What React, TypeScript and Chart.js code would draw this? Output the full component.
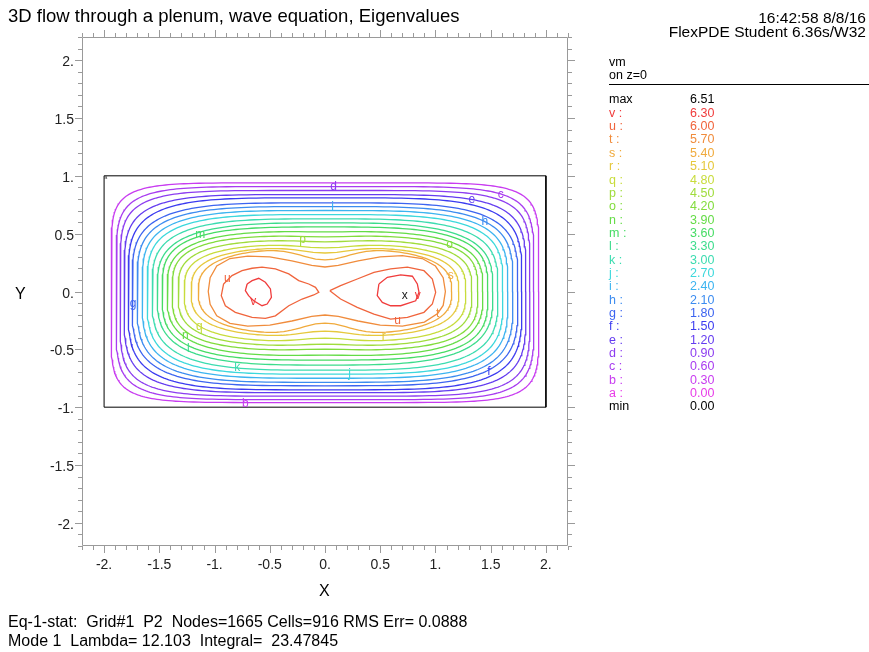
import React, { useEffect, useRef } from "react";
import { Chart, registerables } from "chart.js";

Chart.register(...registerables);

// ---------- legend / level table ----------
const levelLetters = ["a","b","c","d","e","f","g","h","i","j","k","l","m","n","o","p","q","r","s","t","u","v"];
const levelValues = ["0.00","0.30","0.60","0.90","1.20","1.50","1.80","2.10","2.40","2.70","3.00","3.30","3.60","3.90","4.20","4.50","4.80","5.10","5.40","5.70","6.00","6.30"];
const levelColors = ["#e83ce8","#c83cf0","#a83cf0","#8c3cf0","#643cf0","#3c3cf0","#3c64f0","#3c8cf0","#3cb4f0","#3cd8dc","#3cdcb0","#3cdc8c","#46dc64","#64dc46","#82dc3c","#a0dc3c","#c8dc3c","#e6c83c","#f0aa3c","#f08c3c","#f0643c","#f03c3c"];
const maxValue = "6.51";
const minValue = "0.00";

// ---------- outer contours (rounded) ----------
const contourLetters = ["b","c","d","e","f","g","h","i","j","k","l","m","n","o","p","q","r","s"];
const contourHalfW = [1.936,1.891,1.855,1.819,1.782,1.746,1.701,1.655,1.610,1.565,1.519,1.474,1.429,1.383,1.329,1.274,1.211,1.147];
const contourTop = [0.939,0.907,0.873,0.838,0.810,0.766,0.734,0.700,0.665,0.628,0.593,0.558,0.515,0.472,0.429,0.377,0.333,0.273];
const contourBottom = [-0.960,-0.935,-0.905,-0.875,-0.850,-0.815,-0.785,-0.750,-0.715,-0.680,-0.636,-0.593,-0.550,-0.498,-0.455,-0.403,-0.342,-0.273];
const contourExp = [7,6,5.5,4.8,4.3,4.0,3.9,3.8,3.7,3.5,3.3,3.4,3.3,3.4,3.3,3.2,3.0,2.8];
const contourWaist = [0,0,0,0,0,0,0,0,0,0,0,0,0.005,0.01,0.015,0.03,0.05,0.1];

// ---------- inner contours (t, u, v) ----------
const tX = [-1.057,-1.04,-0.98,-0.86,-0.70,-0.50,-0.30,-0.12,0,0.12,0.30,0.50,0.70,0.88,1.00,1.07,1.09,1.07,1.02,0.90,0.70,0.50,0.30,0.12,0,-0.12,-0.30,-0.50,-0.70,-0.86,-0.98,-1.04];
const tY = [0,0.12,0.22,0.285,0.305,0.30,0.265,0.225,0.212,0.225,0.265,0.30,0.31,0.285,0.22,0.12,0,-0.12,-0.19,-0.265,-0.30,-0.29,-0.255,-0.215,-0.203,-0.215,-0.255,-0.29,-0.30,-0.275,-0.21,-0.11];
const uLeftX = [-0.918,-0.842,-0.751,-0.660,-0.570,-0.449,-0.328,-0.238,-0.147,-0.086,-0.056,-0.102,-0.207,-0.328,-0.449,-0.540,-0.660,-0.812,-0.902,-0.939];
const uLeftY = [0.065,0.137,0.180,0.201,0.210,0.195,0.152,0.094,0.065,0.036,-0.007,-0.030,-0.065,-0.123,-0.210,-0.232,-0.223,-0.180,-0.123,-0.036];
const uRightX = [0.044,0.141,0.292,0.443,0.594,0.746,0.896,0.972,1.002,0.972,0.896,0.746,0.594,0.443,0.292,0.141];
const uRightY = [0.007,0.050,0.108,0.166,0.195,0.210,0.180,0.108,-0.007,-0.108,-0.180,-0.223,-0.238,-0.195,-0.137,-0.065];
const vLeftX = [-0.705,-0.660,-0.600,-0.540,-0.494,-0.485,-0.524,-0.570,-0.646,-0.692,-0.721];
const vLeftY = [0.065,0.094,0.114,0.080,0.022,-0.050,-0.108,-0.123,-0.080,-0.036,0.007];
const vRightX = [0.488,0.564,0.685,0.791,0.836,0.851,0.821,0.685,0.594,0.519,0.473];
const vRightY = [0.065,0.123,0.143,0.132,0.065,-0.007,-0.080,-0.123,-0.123,-0.094,-0.036];

// domain boundary
const domainX = [-2, 2, 2, -2, -2];
const domainY = [1, 1, -1, -1, 1];

// contour labels on the plot
const labelText = ["d","i","e","c","h","o","s","t","u","r","j","f","x","v","m","p","g","q","n","l","k","b","u","v"];
const labelX = [0.077,0.068,1.329,1.592,1.447,1.129,1.138,1.020,0.658,0.531,0.222,1.483,0.721,0.839,-1.129,-0.204,-1.737,-1.138,-1.265,-1.238,-0.794,-0.721,-0.884,-0.649];
const labelY = [0.905,0.732,0.792,0.835,0.602,0.403,0.134,-0.195,-0.255,-0.394,-0.714,-0.697,-0.039,-0.039,0.489,0.446,-0.108,-0.307,-0.385,-0.498,-0.662,-0.974,0.108,-0.091];
// tiny boundary label at the domain corner
const cornerLabel = "a";
const cornerLabelX = -1.985;
const cornerLabelY = 0.985;

// axis ticks
const xTickValues = [-2,-1.5,-1,-0.5,0,0.5,1,1.5,2];
const xTickLabels = ["-2.","-1.5","-1.","-0.5","0.","0.5","1.","1.5","2."];
const yTickValues = [-2,-1.5,-1,-0.5,0,0.5,1,1.5,2];
const yTickLabels = ["-2.","-1.5","-1.","-0.5","0.","0.5","1.","1.5","2."];
const axisMin = -2.2;
const axisMax = 2.2;

const FONT = '"Liberation Sans", Arial, sans-serif';

function colorOf(letter: string): string {
  const i = levelLetters.indexOf(letter);
  return i >= 0 ? levelColors[i] : "#000000";
}

function zip(xs: number[], ys: number[], close: boolean) {
  const pts = xs.map((x, i) => ({ x, y: ys[i] }));
  if (close) pts.push({ x: xs[0], y: ys[0] });
  return pts;
}

function roundedContour(i: number) {
  const W = contourHalfW[i];
  const n = contourExp[i];
  const w = contourWaist[i];
  const pts: { x: number; y: number }[] = [];
  const N = 240;
  for (let k = 0; k <= N; k++) {
    const th = (k / N) * Math.PI * 2;
    const c = Math.cos(th);
    const s = Math.sin(th);
    const x = W * Math.sign(c) * Math.pow(Math.abs(c), 2 / n);
    const H = s >= 0 ? contourTop[i] + w : -contourBottom[i] + w;
    let y = H * Math.pow(Math.abs(s), 2 / n);
    y -= w * Math.exp(-(x / 0.3) * (x / 0.3)) * Math.pow(Math.abs(s), 0.5);
    pts.push({ x, y: s >= 0 ? y : -y });
  }
  return pts;
}

const overlayPlugin = {
  id: "overlay",
  afterDatasetsDraw(chart: any) {
    const { ctx, chartArea: a, scales } = chart;
    const xs = scales.x;
    const ys = scales.y;
    ctx.save();
    // contour labels
    ctx.font = `12px ${FONT}`;
    ctx.textAlign = "center";
    ctx.textBaseline = "middle";
    labelText.forEach((t, i) => {
      ctx.fillStyle = t === "x" ? "#202020" : colorOf(t);
      ctx.fillText(t, xs.getPixelForValue(labelX[i]), ys.getPixelForValue(labelY[i]));
    });
    ctx.font = `6px ${FONT}`;
    ctx.fillStyle = "#444444";
    ctx.fillText(cornerLabel, xs.getPixelForValue(cornerLabelX), ys.getPixelForValue(cornerLabelY));
    // frame
    ctx.strokeStyle = "#9a9a9a";
    ctx.lineWidth = 1;
    ctx.beginPath();
    ctx.rect(Math.round(a.left) + 0.5, Math.round(a.top) + 0.5, Math.round(a.right - a.left) - 1, Math.round(a.bottom - a.top) - 1);
    ctx.stroke();
    // ticks (minor every 0.1, major every 0.5)
    ctx.beginPath();
    for (let k = Math.round(axisMin * 10); k <= Math.round(axisMax * 10); k++) {
      const v = k / 10;
      const len = k % 5 === 0 ? 7 : 4;
      const px = Math.round(xs.getPixelForValue(v)) + 0.5;
      const py = Math.round(ys.getPixelForValue(v)) + 0.5;
      ctx.moveTo(px, a.top); ctx.lineTo(px, a.top - len);
      ctx.moveTo(px, a.bottom); ctx.lineTo(px, a.bottom + len);
      ctx.moveTo(a.left, py); ctx.lineTo(a.left - len, py);
      ctx.moveTo(a.right, py); ctx.lineTo(a.right + len, py);
    }
    ctx.stroke();
    // tick labels
    ctx.fillStyle = "#222222";
    ctx.font = `14px ${FONT}`;
    ctx.textBaseline = "alphabetic";
    ctx.textAlign = "center";
    xTickValues.forEach((v, i) => {
      ctx.fillText(xTickLabels[i], xs.getPixelForValue(v), a.bottom + 23);
    });
    ctx.textAlign = "right";
    yTickValues.forEach((v, i) => {
      ctx.fillText(yTickLabels[i], a.left - 8, ys.getPixelForValue(v) + 6);
    });
    ctx.restore();
  },
};

function Txt(props: { x: number; base: number; size: number; color?: string; right?: boolean; children: any }) {
  const { x, base, size, color, right, children } = props;
  const style: any = {
    position: "absolute",
    top: base - 0.8465 * size,
    fontSize: size,
    lineHeight: `${size}px`,
    fontFamily: FONT,
    color: color || "#000",
    whiteSpace: "pre",
  };
  if (right) style.right = 869 - x;
  else style.left = x;
  return <div style={style}>{children}</div>;
}

export default function App() {
  const ref = useRef<HTMLCanvasElement | null>(null);

  useEffect(() => {
    if (!ref.current) return;
    const datasets: any[] = [];
    contourLetters.forEach((l, i) => {
      datasets.push({ data: roundedContour(i), borderColor: colorOf(l) });
    });
    datasets.push({ data: zip(tX, tY, true), borderColor: colorOf("t") });
    datasets.push({ data: zip(uLeftX, uLeftY, true), borderColor: colorOf("u") });
    datasets.push({ data: zip(uRightX, uRightY, true), borderColor: colorOf("u") });
    datasets.push({ data: zip(vLeftX, vLeftY, true), borderColor: colorOf("v") });
    datasets.push({ data: zip(vRightX, vRightY, true), borderColor: colorOf("v") });
    datasets.push({ data: zip(domainX, domainY, false), borderColor: "#000000", borderWidth: 1 });
    datasets.forEach((d) => {
      d.showLine = true;
      d.pointRadius = 0;
      d.fill = false;
      d.tension = 0;
      if (d.borderWidth === undefined) d.borderWidth = 1.3;
    });
    const chart = new Chart(ref.current, {
      type: "scatter",
      data: { datasets },
      options: {
        animation: false,
        responsive: false,
        devicePixelRatio: 1,
        layout: { padding: { left: 82, top: 37, right: 301, bottom: 106 } },
        scales: {
          x: { type: "linear", min: axisMin, max: axisMax, display: false },
          y: { type: "linear", min: axisMin, max: axisMax, display: false },
        },
        plugins: { legend: { display: false }, tooltip: { enabled: false } },
      },
      plugins: [overlayPlugin],
    } as any);
    return () => chart.destroy();
  }, []);

  const rowsTop = 104;
  const rowStep = 13.35;
  const rows: { l: string; v: string; c: string }[] = [{ l: "max", v: maxValue, c: "#000" }];
  for (let i = levelLetters.length - 1; i >= 0; i--) {
    rows.push({ l: `${levelLetters[i]} :`, v: levelValues[i], c: levelColors[i] });
  }
  rows.push({ l: "min", v: minValue, c: "#000" });

  return (
    <div style={{ position: "absolute", left: 0, top: 0, width: 869, height: 652, background: "#fff", overflow: "hidden" }}>
      <canvas ref={ref} width={869} height={652} style={{ position: "absolute", left: 0, top: 0, width: 869, height: 652 }} />
      <Txt x={8} base={23} size={18.5}>3D flow through a plenum, wave equation, Eigenvalues</Txt>
      <Txt x={866} base={23} size={15.5} right>16:42:58 8/8/16</Txt>
      <Txt x={866} base={37.5} size={15.5} right>FlexPDE Student 6.36s/W32</Txt>
      <Txt x={609} base={66.5} size={12.5}>vm</Txt>
      <Txt x={609} base={79.5} size={12.5}>on z=0</Txt>
      <div style={{ position: "absolute", left: 609, top: 84, width: 260, height: 1, background: "#000" }} />
      {rows.map((r, i) => (
        <React.Fragment key={i}>
          <Txt x={609} base={rowsTop + i * rowStep} size={12.5} color={r.c}>{r.l}</Txt>
          <Txt x={690} base={rowsTop + i * rowStep} size={12.5} color={r.c}>{r.v}</Txt>
        </React.Fragment>
      ))}
      <Txt x={15} base={299.5} size={16}>Y</Txt>
      <Txt x={319} base={597} size={16}>X</Txt>
      <Txt x={8} base={628} size={16}>{"Eq-1-stat:  Grid#1  P2  Nodes=1665 Cells=916 RMS Err= 0.0888"}</Txt>
      <Txt x={8} base={646.5} size={16}>{"Mode 1  Lambda= 12.103  Integral=  23.47845"}</Txt>
    </div>
  );
}
